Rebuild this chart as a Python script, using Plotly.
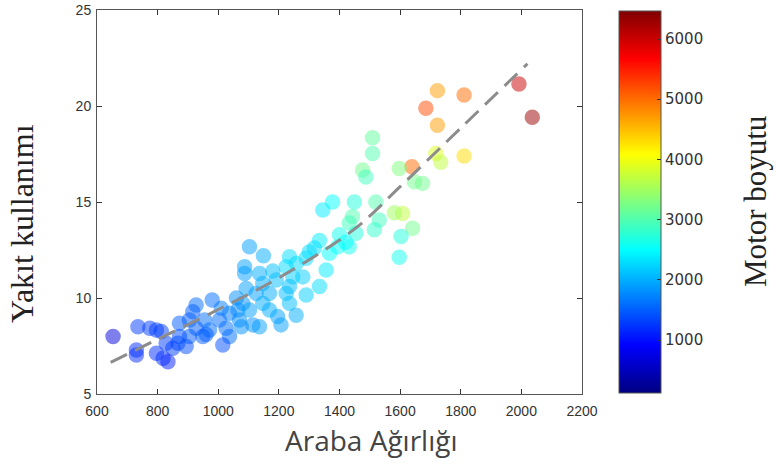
import plotly.graph_objects as go

# Car weight (x), fuel use (y), engine size (color)
weight = [1992, 2036, 1723, 1811, 1685, 1723, 1811, 1718, 1734, 1639, 1597, 1647, 1674,
          1509, 1509, 1476, 1487, 1520, 1449, 1377, 1345, 1443, 1432, 1531, 1515, 1608,
          1581, 1641, 1603, 1597, 1454, 1432, 1394, 1367, 1334, 1317, 1356, 1290, 1257,
          1235, 1224, 1246, 1279, 1191, 1235, 1334, 1290, 1224, 1235, 1257, 1196, 1207,
          1103, 1149, 1087, 1087, 1136, 1147, 1169, 1092, 1125, 1081, 1147, 1065, 1103,
          1169, 1070, 1114, 1136, 1076, 1037, 1010, 1004, 1026, 1037, 1015, 927, 955,
          905, 872, 927, 971, 905, 872, 949, 867, 850, 894, 828, 796, 818, 834, 735,
          774, 796, 812, 730, 730, 653, 916, 1180, 1060, 1300, 1400, 1420, 980, 960]
fuel = [21.15, 19.41, 20.80, 20.57, 19.88, 19.00, 17.40, 17.53, 17.07, 16.84, 16.75, 16.06, 15.97,
        18.35, 17.53, 16.67, 16.30, 15.00, 15.00, 15.00, 14.58, 14.24, 13.90, 14.06, 13.55, 14.40,
        14.44, 13.63, 13.20, 12.12, 13.37, 12.67, 12.67, 12.33, 13.00, 12.60, 11.46, 12.07, 11.80,
        12.15, 11.63, 11.10, 11.10, 10.94, 10.60, 10.60, 10.16, 10.24, 9.72, 9.10, 9.03, 8.60,
        12.67, 12.20, 11.63, 11.28, 11.28, 10.76, 10.24, 10.50, 10.24, 9.72, 9.72, 9.38, 9.38,
        9.38, 8.85, 8.60, 8.50, 8.50, 9.20, 9.46, 8.85, 8.42, 7.99, 7.55, 9.63, 8.85,
        8.85, 8.68, 8.42, 8.33, 7.99, 7.99, 7.99, 7.64, 7.38, 7.47, 7.64, 7.12, 6.86, 6.68, 8.50,
        8.42, 8.33, 8.25, 7.29, 7.03, 7.99, 9.29, 11.40, 10.00, 12.40, 13.30, 12.90, 9.90, 8.10]
engine = [6000, 6300, 4700, 5000, 5200, 4700, 4300, 3900, 3700, 5000, 3300, 3200, 3200,
          3100, 3000, 3200, 2900, 3000, 2700, 2500, 2400, 3000, 2900, 2900, 2800, 3700,
          3500, 3200, 2700, 2600, 2700, 2600, 2500, 2500, 2400, 2300, 2400, 2300, 2300,
          2300, 2300, 2200, 2200, 2100, 2100, 2300, 2200, 2100, 2100, 2000, 1900, 1900,
          1900, 2000, 1900, 1900, 2000, 2000, 2000, 1900, 1900, 1800, 2000, 1800, 1900,
          2000, 1800, 1800, 1900, 1800, 1700, 1700, 1600, 1600, 1600, 1400, 1600, 1600,
          1500, 1500, 1500, 1600, 1500, 1400, 1500, 1400, 1300, 1400, 1300, 1200, 1200, 1100, 1300,
          1300, 1300, 1300, 1200, 1200, 700, 1500, 2100, 1800, 2300, 2600, 2500, 1600, 1500]

# Fitted trend curve
fit_x = [645, 800, 1000, 1200, 1450, 1600, 1800, 2020]
fit_y = [6.65, 7.85, 9.40, 11.05, 13.60, 15.80, 18.85, 22.20]

x_ticks = [600, 800, 1000, 1200, 1400, 1600, 1800, 2000, 2200]
y_ticks = [5, 10, 15, 20, 25]
c_ticks = [1000, 2000, 3000, 4000, 5000, 6000]

# MATLAB-style jet
jet = [[0.0, "rgb(0,0,128)"], [0.125, "rgb(0,0,255)"], [0.375, "rgb(0,255,255)"],
       [0.625, "rgb(255,255,0)"], [0.875, "rgb(255,0,0)"], [1.0, "rgb(128,0,0)"]]

L, R, T, B = 97, 582, 10, 394


def px_x(p):
    return (p - L) / (R - L)


def px_y(p):
    return (B - p) / (B - T)


fig = go.Figure()
fig.add_trace(go.Scatter(
    x=weight, y=fuel, mode="markers",
    marker=dict(symbol="circle-dot", size=14, color=engine, colorscale=jet,
                cmin=120, cmax=6465, opacity=0.5,
                line=dict(width=1.5, color=engine, colorscale=jet, cmin=120, cmax=6465),
                colorbar=dict(x=px_x(619), xanchor="left", xpad=0,
                              y=px_y(11), yanchor="top", ypad=0,
                              lenmode="pixels", len=382, thicknessmode="pixels", thickness=42,
                              outlinewidth=1, outlinecolor="#555",
                              tickvals=c_ticks, ticks="inside", ticklen=4, tickcolor="#333",
                              tickfont=dict(family="DejaVu Sans", size=15, color="#333"))),
    showlegend=False))
fig.add_trace(go.Scatter(
    x=fit_x, y=fit_y, mode="lines", line=dict(color="#8c8c8c", width=3, dash="18px,9px", shape="spline"),
    showlegend=False))

fig.update_layout(
    width=776, height=466, paper_bgcolor="white", plot_bgcolor="white",
    margin=dict(l=L, r=776 - R, t=T, b=466 - B, autoexpand=False),
    font=dict(family="Arial, Liberation Sans", color="#333"),
    xaxis=dict(range=[600, 2200], tickvals=x_ticks, showgrid=False, zeroline=False,
               ticks="inside", ticklen=5, tickcolor="#333", mirror="ticks",
               showline=True, linecolor="#555", linewidth=1, ticklabelstandoff=4,
               tickfont=dict(size=14, color="#333")),
    yaxis=dict(range=[5, 25], tickvals=y_ticks, showgrid=False, zeroline=False,
               ticks="inside", ticklen=5, tickcolor="#333", mirror="ticks",
               showline=True, linecolor="#555", linewidth=1, ticklabelstandoff=2,
               tickfont=dict(size=14, color="#333")),
    annotations=[
        dict(text="Araba Ağırlığı", x=px_x(371), y=px_y(440), showarrow=False,
             xref="paper", yref="paper", xanchor="center", yanchor="middle",
             font=dict(family="Open Sans", size=28, color="#444")),
        dict(text="Yakıt kullanımı", x=px_x(22), y=px_y(224), textangle=-90, showarrow=False,
             xref="paper", yref="paper", xanchor="center", yanchor="middle",
             font=dict(family="Liberation Serif", size=32, color="#222")),
        dict(text="Motor boyutu", x=px_x(755), y=px_y(202), textangle=-90, showarrow=False,
             xref="paper", yref="paper", xanchor="center", yanchor="middle",
             font=dict(family="Liberation Serif", size=31, color="#222")),
    ],
)

fig.write_html("out.html", config={"displayModeBar": False},
               post_script="document.body.style.margin='0';document.body.style.padding='0';")
